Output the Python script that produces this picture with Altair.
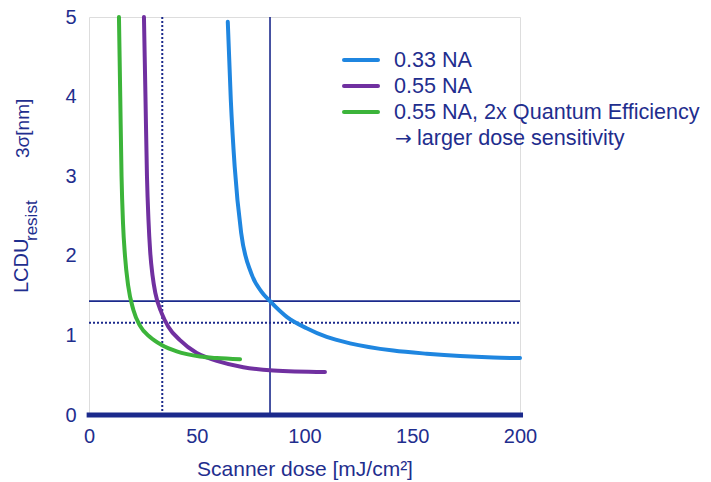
import altair as alt
import pandas as pd

# ---- data ----
series_names = ["0.33 NA", "0.55 NA", "0.55 NA, 2x Quantum Efficiency"]
series_colors = ["#1f86e0", "#7030a0", "#3cb43a"]
legend_arrow = "\u2192"
legend_note = "larger dose sensitivity"

blue_dose = [64.4, 65.8, 67.6, 70.6, 75.3, 80.0, 84.0, 91.9, 101.0, 110.3, 121.1, 141.2, 156.7, 172.2, 187.6, 200.0]
blue_lcdu = [4.94, 3.96, 3.12, 2.29, 1.78, 1.55, 1.43, 1.23, 1.09, 0.98, 0.90, 0.81, 0.77, 0.74, 0.722, 0.715]

purple_dose = [25.5, 26.2, 26.9, 27.6, 28.4, 29.5, 30.8, 33.7, 36.8, 42.2, 50.0, 55.0, 59.3, 71.6, 85.5, 109.5]
purple_lcdu = [5.0, 4.0, 3.0, 2.45, 2.05, 1.75, 1.53, 1.28, 1.11, 0.94, 0.78, 0.72, 0.68, 0.60, 0.56, 0.54]

green_dose = [13.9, 14.5, 15.1, 15.8, 16.7, 18.2, 20.6, 23.7, 28.3, 33.7, 40.7, 51.5, 59.3, 70.1]
green_lcdu = [5.0, 4.0, 3.0, 2.4, 2.0, 1.62, 1.32, 1.12, 0.98, 0.88, 0.80, 0.735, 0.715, 0.70]

ref_dose_solid = 84.0
ref_dose_dotted = 34.0
ref_lcdu_solid = 1.43
ref_lcdu_dotted = 1.16

x_ticks = [0, 50, 100, 150, 200]
y_ticks = [0, 1, 2, 3, 4, 5]

NAVY = "#1b2a8c"
TEXT = "#1f2e8e"
FONT = "Liberation Sans"

rows = []
for name, xs, ys in zip(series_names, [blue_dose, purple_dose, green_dose], [blue_lcdu, purple_lcdu, green_lcdu]):
    for i, (a, b) in enumerate(zip(xs, ys)):
        rows.append({"series": name, "dose": a, "lcdu": b, "order": i})
df = pd.DataFrame(rows)

xscale = alt.Scale(domain=[0, 200], nice=False, zero=False)
yscale = alt.Scale(domain=[0, 5], nice=False)

curves = alt.Chart(df).mark_line(strokeWidth=4, interpolate="monotone", strokeCap="round").encode(
    x=alt.X("dose:Q", scale=xscale,
            axis=alt.Axis(values=x_ticks, format="d", title="Scanner dose [mJ/cm\u00b2]", grid=False, domain=False,
                          ticks=False, labelFlush=False,
                          labelFontSize=20, labelColor=TEXT, labelFont=FONT, labelPadding=11,
                          titleFontSize=21, titleColor=TEXT, titleFont=FONT, titleFontWeight="normal", titlePadding=12)),
    y=alt.Y("lcdu:Q", scale=yscale,
            axis=alt.Axis(values=y_ticks, format="d", title="", grid=False, domain=False, ticks=False,
                          labelFlush=False,
                          labelFontSize=20, labelColor=TEXT, labelFont=FONT, labelPadding=13)),
    color=alt.Color("series:N", scale=alt.Scale(domain=series_names, range=series_colors), legend=None),
    order="order:Q",
)

vdf = pd.DataFrame({"dose": [ref_dose_solid, ref_dose_dotted], "kind": ["solid", "dotted"], "y0": [0, 0], "y1": [5, 5]})
hdf = pd.DataFrame({"lcdu": [ref_lcdu_solid, ref_lcdu_dotted], "kind": ["solid", "dotted"], "x0": [0, 0], "x1": [200, 200]})

v_solid = alt.Chart(vdf[vdf.kind == "solid"]).mark_rule(color=NAVY, strokeWidth=1.6).encode(
    x=alt.X("dose:Q", scale=xscale), y=alt.Y("y0:Q", scale=yscale), y2="y1:Q")
v_dot = alt.Chart(vdf[vdf.kind == "dotted"]).mark_rule(color=NAVY, strokeWidth=2, strokeDash=[2, 2]).encode(
    x=alt.X("dose:Q", scale=xscale), y=alt.Y("y0:Q", scale=yscale), y2="y1:Q")
h_solid = alt.Chart(hdf[hdf.kind == "solid"]).mark_rule(color=NAVY, strokeWidth=1.6).encode(
    y=alt.Y("lcdu:Q", scale=yscale), x=alt.X("x0:Q", scale=xscale), x2="x1:Q")
h_dot = alt.Chart(hdf[hdf.kind == "dotted"]).mark_rule(color=NAVY, strokeWidth=2, strokeDash=[2, 2]).encode(
    y=alt.Y("lcdu:Q", scale=yscale), x=alt.X("x0:Q", scale=xscale), x2="x1:Q")

base_df = pd.DataFrame({"y": [0], "xa": [-1.1], "xb": [201.4]})
baseline = alt.Chart(base_df).mark_rule(color=NAVY, strokeWidth=5).encode(
    y=alt.Y("y:Q", scale=yscale), x=alt.X("xa:Q", scale=xscale), x2="xb:Q")

# legend (drawn manually)
legend_layers = []
for i, (name, col) in enumerate(zip(series_names, series_colors)):
    yy = 43 + 26 * i
    legend_layers.append(alt.Chart(pd.DataFrame({"n": [name]})).mark_rule(color=col, strokeWidth=4, strokeCap="round").encode(
        x=alt.value(255), x2=alt.value(289), y=alt.value(yy)))
    legend_layers.append(alt.Chart(pd.DataFrame({"n": [name]})).mark_text(
        align="left", baseline="middle", fontSize=21.6, font=FONT, color=TEXT).encode(
        x=alt.value(305), y=alt.value(yy + 1), text="n:N"))
legend_layers.append(alt.Chart(pd.DataFrame({"n": [legend_arrow]})).mark_text(
    align="left", baseline="middle", fontSize=20, font="DejaVu Sans", color=TEXT).encode(
    x=alt.value(306), y=alt.value(122), text="n:N"))
legend_layers.append(alt.Chart(pd.DataFrame({"n": [legend_note]})).mark_text(
    align="left", baseline="middle", fontSize=21.6, font=FONT, color=TEXT).encode(
    x=alt.value(328), y=alt.value(122), text="n:N"))

# y-axis title with subscript
def vtext(txt, x, y, size):
    return alt.Chart(pd.DataFrame({"t": [txt]})).mark_text(
        align="left", baseline="middle", angle=270, fontSize=size, font=FONT, color=TEXT).encode(
        x=alt.value(x), y=alt.value(y), text="t:N")

ytitle = [vtext("LCDU", -67, 276, 20), vtext("resist", -57, 224, 17), vtext("3\u03c3[nm]", -66, 141, 19)]

chart = alt.layer(h_solid, h_dot, v_solid, v_dot, baseline, curves, *legend_layers, *ytitle).properties(
    width=431, height=398,
    autosize=alt.AutoSizeParams(type="none"),
    padding={"left": 89, "top": 17, "right": 191, "bottom": 67},
).configure_view(stroke=None).configure(background="white")

chart.save("out.html", embed_options={"renderer": "svg", "actions": False})
